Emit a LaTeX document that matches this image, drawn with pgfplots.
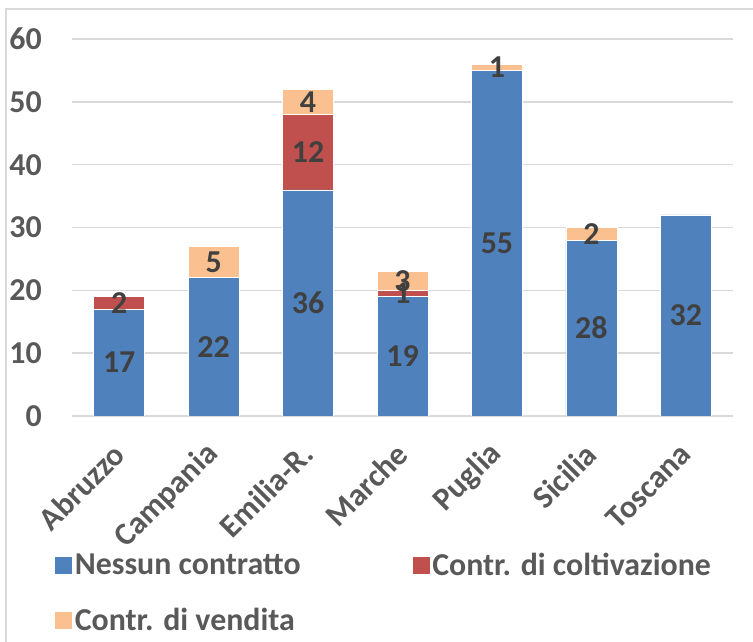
\documentclass[border=0pt]{standalone}
\usepackage{fontspec}
\setmainfont{Carlito}
\usepackage{pgfplots}
\pgfplotsset{compat=1.18}

\definecolor{cNessun}{HTML}{4F81BD}
\definecolor{cColt}{HTML}{C0504D}
\definecolor{cVend}{HTML}{FAC090}
\definecolor{txtgray}{HTML}{595959}
\definecolor{lblgray}{HTML}{404040}
\definecolor{gridgray}{HTML}{D9D9D9}

% Aziende per regione e tipo di contratto
\pgfplotstableread{
x nessun colt vend
0 17 2  0
1 22 0  5
2 36 12 4
3 19 1  3
4 55 0  1
5 28 0  2
6 32 0  0
}\contratti

\begin{document}
\begin{tikzpicture}
\path[use as bounding box] (0bp,0bp) rectangle (753bp,642bp);
\draw[gridgray, line width=1.5bp] (6bp,-10bp) -- (6bp,633bp) -- (770bp,633bp);
\begin{axis}[
  at={(72bp,226bp)}, anchor=south west,
  scale only axis, width=661bp, height=377bp,
  ybar stacked, bar width=51bp,
  xmin=-0.5, xmax=6.5, ymin=0, ymax=60,
  xtick=data,
  xticklabels={Abruzzo,Campania,Emilia-R.,Marche,Puglia,Sicilia,Toscana},
  ytick={0,10,...,60},
  axis line style={draw=none},
  major tick length=0pt,
  ymajorgrids, major grid style={gridgray, line width=1.5bp},
  font=\fontsize{32}{38}\selectfont\bfseries,
  /pgf/number format/assume math mode=true,
  tick label style={text=txtgray},
  y tick label style={anchor=east, inner sep=0pt, xshift=-30bp},
  x tick label style={rotate=45, anchor=east, inner sep=0pt},
  xticklabel shift=33bp,
  visualization depends on={rawy \as \rawy},
  % value labels sit in the middle of each segment; empty segments get none
  nodes near coords={\ifdim\rawy pt>0pt \pgfmathprintnumber{\rawy}\fi},
  every node near coord/.append style={anchor=center, text=lblgray},
  every axis plot/.append style={draw=white, line width=0.6bp},
  legend columns=2,
  legend cell align=left,
  legend image code/.code={\fill[#1] (0bp,-9bp) rectangle (18bp,9bp);},
  legend style={draw=none, fill=none, text=txtgray,
    at={(-0.0318,-0.353)}, anchor=north west, row sep=27bp,
    /tikz/every even column/.append style={column sep=109bp}},
]
\addplot[fill=cNessun] table[x=x, y=nessun] {\contratti};
\addplot[fill=cColt] table[x=x, y=colt] {\contratti};
\addplot[fill=cVend] table[x=x, y=vend] {\contratti};
\legend{Nessun contratto, Contr. di coltivazione, Contr. di vendita}
\end{axis}
\end{tikzpicture}
\end{document}
